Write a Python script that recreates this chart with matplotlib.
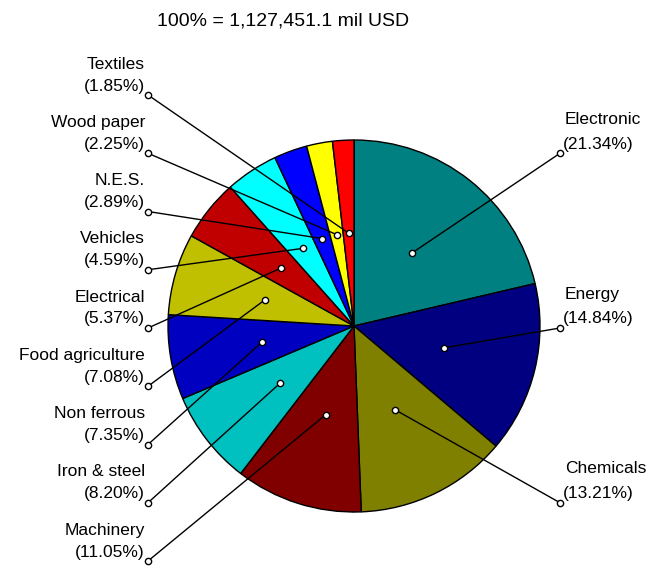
import matplotlib.pyplot as plt
import numpy as np

# export shares by product group
labels = ['Electronic', 'Energy', 'Chemicals', 'Machinery', 'Iron & steel',
          'Non ferrous', 'Food agriculture', 'Electrical', 'Vehicles',
          'N.E.S.', 'Wood paper', 'Textiles']
shares = [21.34, 14.84, 13.21, 11.05, 8.20, 7.35, 7.08, 5.37, 4.59, 2.89, 2.25, 1.85]
colors = ['#008080', '#000080', '#808000', '#800000', '#00c0c0', '#0000c0',
          '#c0c000', '#c00000', '#00ffff', '#0000ff', '#ffff00', '#ff0000']
# row in the label column (0 = top) and side for each slice
label_row = [1, 4, 7, 8, 7, 6, 5, 4, 3, 2, 1, 0]
label_side = ['right'] * 3 + ['left'] * 9
title = '100% = 1,127,451.1 mil USD'

W, H = 654, 569
plt.rcParams['font.family'] = ['Liberation Sans', 'DejaVu Sans']

fig = plt.figure(figsize=(W / 100, H / 100), dpi=100)
ax = fig.add_axes([0, 0, 1, 1])

def py(y):
    # pixel row (from top) to data y
    return H - y

cx, cy, R = 354, py(326), 186
wedges, _ = ax.pie(shares, colors=colors, startangle=90, counterclock=False,
                   radius=R, center=(cx, cy),
                   wedgeprops=dict(edgecolor='black', linewidth=1))

row_y = lambda k: 95 + 58.25 * k

for w, lab, val, k, side in zip(wedges, labels, shares, label_row, label_side):
    mid = np.deg2rad((w.theta1 + w.theta2) / 2)
    x0 = cx + 0.5 * R * np.cos(mid)
    y0 = cy + 0.5 * R * np.sin(mid)
    x1 = 560 if side == 'right' else 148
    y1 = py(row_y(k))
    ax.plot([x0, x1], [y0, y1], color='black', lw=1, zorder=3)
    ax.plot([x0, x1], [y0, y1], 'o', ms=4.5, mfc='white', mec='black',
            mew=1, zorder=4)
    pct = '(%.2f%%)' % val
    if side == 'right':
        ax.text(565, y1 + 34, lab, ha='left', va='center', fontsize=12.5)
        ax.text(563, y1 + 9, pct, ha='left', va='center', fontsize=12.5)
    else:
        ax.text(145, y1 + 31, lab, ha='right', va='center', fontsize=12.5)
        ax.text(145, y1 + 9, pct, ha='right', va='center', fontsize=12.5)

ax.text(283, py(21), title, ha='center', va='center', fontsize=14)

ax.set_xlim(0, W)
ax.set_ylim(0, H)
ax.set_aspect('auto')
ax.axis('off')

plt.savefig('out.png', dpi=100, facecolor='white')
